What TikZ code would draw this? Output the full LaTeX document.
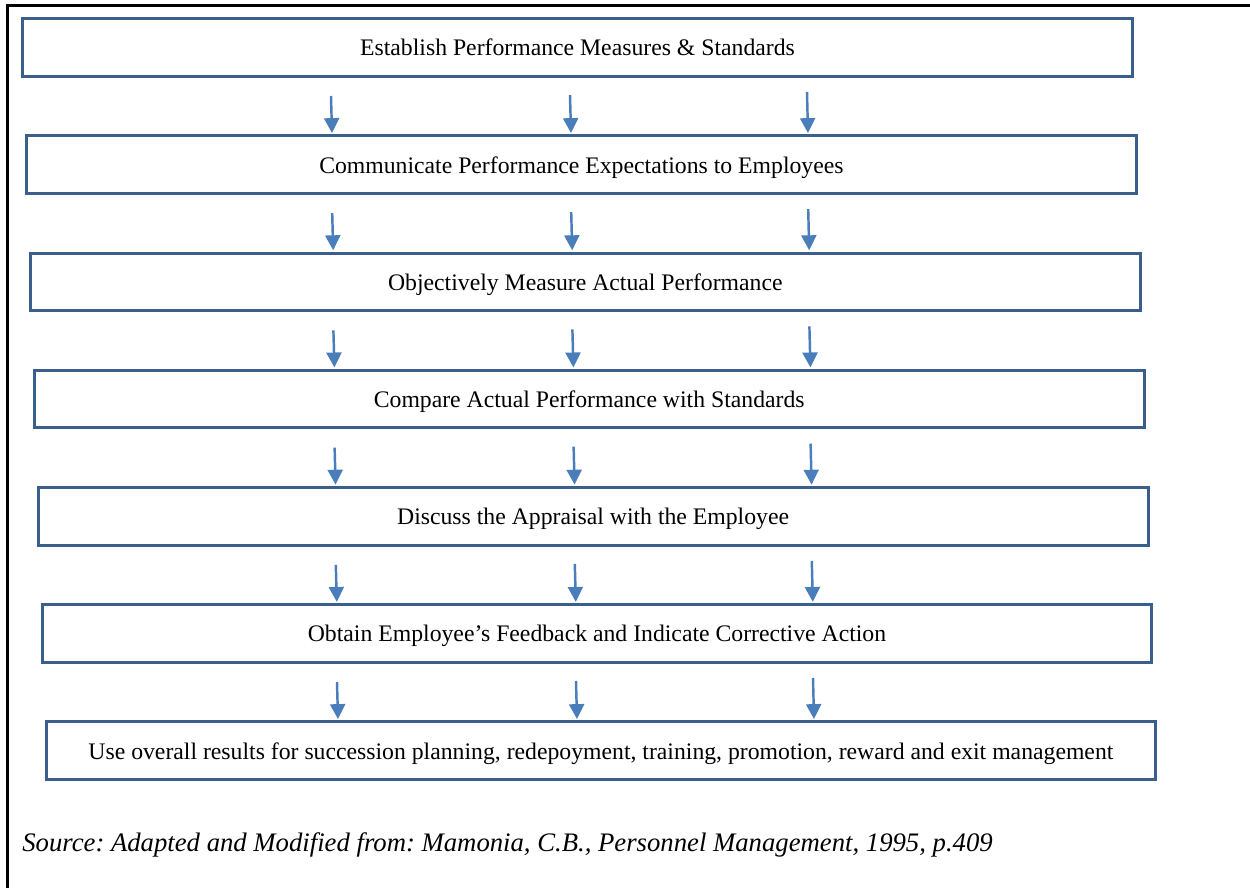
\documentclass[tikz,border=0pt]{standalone}
\usepackage{fontspec}
\setmainfont{Liberation Serif}
\usetikzlibrary{arrows.meta}
\definecolor{boxblue}{HTML}{3A5F8D}
\definecolor{arrowblue}{HTML}{4A7EBB}
\frenchspacing

\begin{document}
\begin{tikzpicture}[x=0.02cm,y=-0.02cm,
  stepbox/.style={draw=boxblue, line width=1.7pt, minimum width=22.2cm, minimum height=1.15cm, inner sep=0pt, text height=9.5pt, text depth=0pt, font=\fontsize{13.5}{16}\selectfont},
  downarrow/.style={arrowblue, line width=1.4pt, -{Triangle[width=8.5pt,length=8.5pt]}}]
\useasboundingbox (0,0) rectangle (1250,888);
%
\draw[line width=1.5pt] (7.5,888) -- (7.5,5.5) -- (1250,5.5);
%
\foreach \i/\txt in {1/{Establish Performance Measures \& Standards},
    2/{Communicate Performance Expectations to Employees},
    3/{Objectively Measure Actual Performance},
    4/{Compare Actual Performance with Standards},
    5/{Discuss the Appraisal with the Employee},
    6/{Obtain Employee’s Feedback and Indicate Corrective Action},
    7/{Use overall results for succession planning, redepoyment, training, promotion, reward and exit management}}
  \node[stepbox] (b\i) at ({577.5+3.9*(\i-1)},{47.5+117.2*(\i-1)}) {\txt};
%
\foreach \i [evaluate=\i as \j using int(\i+1)] in {1,...,6}
  \foreach \c/\ax/\dy in {l/331/0, m/570/-1, r/807/-4} {
    \coordinate (a\i\c) at ({\ax+1.2*(\i-1)},{96+117.2*(\i-1)+\dy});
    \draw[downarrow] (a\i\c) -- ([xshift=0.02cm, yshift=0.8pt]a\i\c |- b\j.north);
  }
%
\node[anchor=base west, inner sep=0pt, font=\itshape\fontsize{15.2}{18}\selectfont] (src) at (22,851)
  {Source: Adapted and Modified from: Mamonia, C.B., Personnel Management, 1995, p.409};
\end{tikzpicture}
\end{document}
